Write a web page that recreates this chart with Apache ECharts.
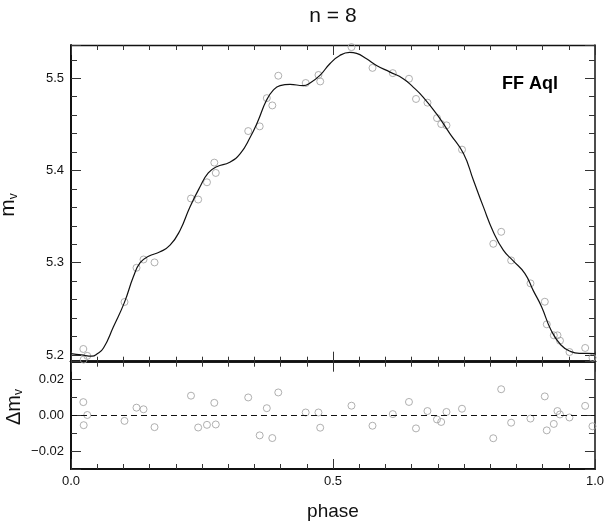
<!DOCTYPE html>
<html><head><meta charset="utf-8">
<script src="https://cdn.jsdelivr.net/npm/echarts@6/dist/echarts.min.js"></script>
<style>html,body{margin:0;padding:0;background:#fff}#c{width:607px;height:524px}</style>
</head><body><div id="c"></div>
<script>
// observed phases, magnitudes and residuals
const phase = [0.0235,0.0242,0.0311,0.1021,0.1250,0.1384,0.1594,0.2290,0.2427,0.2595,0.2735,0.2763,0.3382,0.3601,0.3737,0.3842,0.3956,0.4479,0.4723,0.4756,0.5353,0.5754,0.6141,0.6450,0.6584,0.6803,0.6985,0.7065,0.7166,0.7462,0.8059,0.8210,0.8400,0.8769,0.9042,0.9080,0.9214,0.9284,0.9332,0.9513,0.9813,0.9952];
const mag = [5.2065,5.1950,5.1990,5.2574,5.2945,5.3035,5.3003,5.3696,5.3685,5.3872,5.4085,5.3973,5.4427,5.4478,5.4784,5.4705,5.5027,5.4948,5.5035,5.4965,5.5337,5.5112,5.5055,5.4994,5.4775,5.4735,5.4568,5.4503,5.4489,5.4226,5.3205,5.3335,5.3025,5.2776,5.2577,5.2332,5.2213,5.2213,5.2155,5.2032,5.2076,5.1971];
const resid = [0.0074,-0.0055,0.0002,-0.0031,0.0043,0.0034,-0.0066,0.0110,-0.0068,-0.0053,0.0070,-0.0051,0.0100,-0.0112,0.0040,-0.0127,0.0128,0.0016,0.0016,-0.0069,0.0054,-0.0058,0.0007,0.0075,-0.0073,0.0024,-0.0023,-0.0037,0.0019,0.0037,-0.0128,0.0146,-0.0041,-0.0018,0.0106,-0.0084,-0.0048,0.0024,0.0005,-0.0012,0.0053,-0.0061];
// fitted curve
const curvePhase = [0.000,0.020,0.040,0.050,0.062,0.081,0.102,0.119,0.132,0.148,0.170,0.189,0.208,0.227,0.246,0.262,0.278,0.303,0.323,0.342,0.356,0.373,0.386,0.399,0.418,0.443,0.456,0.475,0.494,0.513,0.532,0.545,0.564,0.583,0.609,0.634,0.653,0.672,0.698,0.723,0.749,0.768,0.787,0.806,0.825,0.844,0.866,0.882,0.898,0.916,0.935,0.954,0.970,0.985,1.000];
const curveMag = [5.2015,5.2000,5.1987,5.2012,5.2075,5.2306,5.2570,5.2847,5.3000,5.3070,5.3118,5.3190,5.3350,5.3605,5.3820,5.3973,5.4040,5.4090,5.4183,5.4360,5.4525,5.4760,5.4870,5.4920,5.4933,5.4920,5.4947,5.5030,5.5157,5.5247,5.5280,5.5270,5.5210,5.5138,5.5066,5.4995,5.4904,5.4796,5.4610,5.4400,5.4183,5.3894,5.3605,5.3334,5.3136,5.3020,5.2884,5.2700,5.2523,5.2271,5.2108,5.2036,5.2018,5.2018,5.2015];
const titleText = 'n = 8';
const starName = 'FF Aql';

const FONT = "'Liberation Sans', Arial, Helvetica, sans-serif";
const L = 71, W = 524, T0 = 45, B0 = 361.7, B1 = 469;
const yTop = [5.1927, 5.536];
const yBot = [-0.03, 0.03];

function xAx(gi, pos, labels, lw, name) {
  return {
    type: 'value', gridIndex: gi, position: pos, min: 0, max: 1, interval: 0.5,
    name: name || '', nameLocation: 'middle', nameGap: 33,
    nameTextStyle: {fontFamily: FONT, fontSize: 19, color: '#111'},
    axisLine: {show: true, onZero: false, lineStyle: {color: '#111', width: lw}},
    axisTick: {show: true, inside: true, length: 10, lineStyle: {color: '#333', width: 1}},
    minorTick: {show: true, splitNumber: 10, length: 5, lineStyle: {color: '#333', width: 1}},
    axisLabel: {show: labels, margin: 6, fontFamily: FONT, fontSize: 13, color: '#111',
      formatter: v => v.toFixed(1)},
    splitLine: {show: false}, minorSplitLine: {show: false}
  };
}
function yAx(gi, pos, ext, iv, split, labels, lw, fmt) {
  return {
    type: 'value', gridIndex: gi, position: pos, min: ext[0], max: ext[1],
    minInterval: iv, maxInterval: iv, splitNumber: 3,
    axisLine: {show: true, onZero: false, lineStyle: {color: '#111', width: lw}},
    axisTick: {show: true, inside: true, length: 10, lineStyle: {color: '#333', width: 1}},
    minorTick: {show: true, splitNumber: split, length: 6, lineStyle: {color: '#333', width: 1}},
    axisLabel: {show: labels, margin: 7, fontFamily: FONT, fontSize: 13, color: '#111',
      showMinLabel: false, showMaxLabel: false, formatter: fmt},
    splitLine: {show: false}, minorSplitLine: {show: false}
  };
}
const fmtTop = v => v.toFixed(1);
const fmtBot = v => (v < -1e-9 ? '\u2212' : '') + Math.abs(v).toFixed(2);

const chart = echarts.init(document.getElementById('c'));
chart.setOption({
  animation: false,
  backgroundColor: '#fff',
  grid: [
    {left: L, top: T0, width: W, height: B0 - T0},
    {left: L, top: B0, width: W, height: B1 - B0}
  ],
  xAxis: [
    xAx(0, 'bottom', false, 2.5),
    xAx(0, 'top', false, 1.3),
    xAx(1, 'top', false, 2.5),
    xAx(1, 'bottom', true, 2.2, 'phase')
  ],
  yAxis: [
    yAx(0, 'left', yTop, 0.1, 5, true, 2, fmtTop),
    yAx(0, 'right', yTop, 0.1, 5, false, 1.5, fmtTop),
    yAx(1, 'left', yBot, 0.02, 2, true, 2, fmtBot),
    yAx(1, 'right', yBot, 0.02, 2, false, 1.5, fmtBot)
  ],
  series: [
    {
      type: 'line', xAxisIndex: 0, yAxisIndex: 0, smooth: 0.5, showSymbol: false,
      data: curvePhase.map((p, i) => [p, curveMag[i]]),
      lineStyle: {color: '#111', width: 1.2}, z: 3
    },
    {
      type: 'scatter', xAxisIndex: 0, yAxisIndex: 0, symbol: 'circle', symbolSize: 7,
      data: phase.map((p, i) => [p, mag[i]]),
      itemStyle: {color: 'rgba(0,0,0,0)', borderColor: '#9c9c9c', borderWidth: 1}, z: 2
    },
    {
      type: 'scatter', xAxisIndex: 3, yAxisIndex: 2, symbol: 'circle', symbolSize: 7,
      data: phase.map((p, i) => [p, resid[i]]),
      itemStyle: {color: 'rgba(0,0,0,0)', borderColor: '#9c9c9c', borderWidth: 1}, z: 2,
      markLine: {
        silent: true, symbol: ['none', 'none'], label: {show: false},
        lineStyle: {type: [6, 4], color: '#111', width: 1},
        data: [{yAxis: 0}]
      }
    }
  ],
  graphic: [
    {type: 'text', x: 333, y: 16, style: {text: titleText, font: '21px ' + FONT, fill: '#111', align: 'center', verticalAlign: 'middle'}},
    {type: 'text', x: 530, y: 84, style: {text: starName, font: 'bold 18px ' + FONT, fill: '#000', align: 'center', verticalAlign: 'middle'}},
    {type: 'text', x: 8, y: 205, rotation: Math.PI / 2, style: {
      text: '{a|m}{b|v}', align: 'center', verticalAlign: 'middle', fill: '#111',
      rich: {a: {fontFamily: FONT, fontSize: 21, lineHeight: 23, fill: '#111'}, b: {fontFamily: FONT, fontSize: 12, verticalAlign: 'bottom', lineHeight: 23, fill: '#111'}}}},
    {type: 'text', x: 14, y: 407, rotation: Math.PI / 2, style: {
      text: '{a|\u0394m}{b|v}', align: 'center', verticalAlign: 'middle', fill: '#111',
      rich: {a: {fontFamily: FONT, fontSize: 20, lineHeight: 22, fill: '#111'}, b: {fontFamily: FONT, fontSize: 12, verticalAlign: 'bottom', lineHeight: 22, fill: '#111'}}}}
  ]
});
</script>
</body></html>
